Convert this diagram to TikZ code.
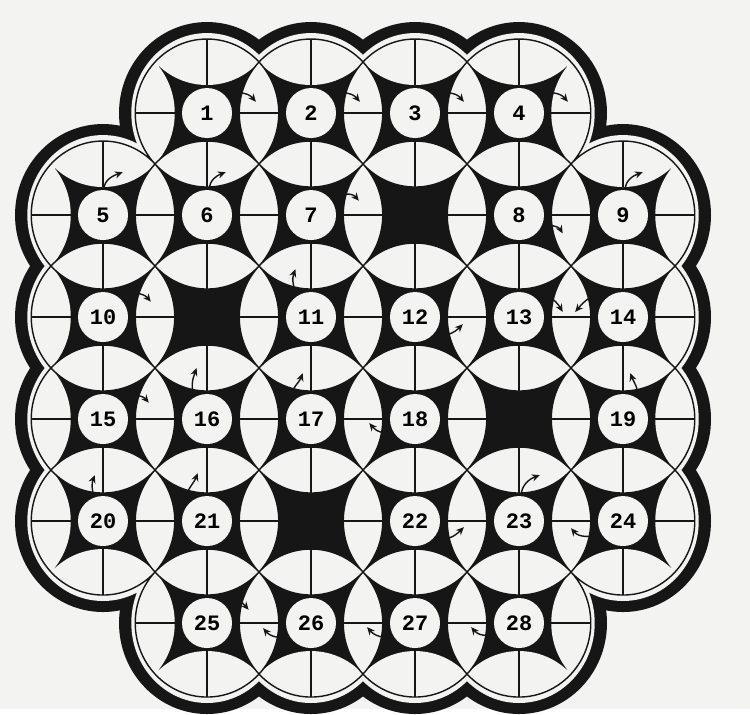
\documentclass[tikz,border=0pt]{standalone}
\usepackage{fontspec}
\setmonofont{Liberation Mono}
\usetikzlibrary{arrows.meta,calc}
\definecolor{ink}{RGB}{22,22,22}
\definecolor{paper}{RGB}{243,243,241}
\newcommand\cells{2/1,3/1,4/1,5/1,1/2,2/2,3/2,4/2,5/2,6/2,1/3,2/3,3/3,4/3,5/3,6/3,
  1/4,2/4,3/4,4/4,5/4,6/4,1/5,2/5,3/5,4/5,5/5,6/5,2/6,3/6,4/6,5/6}
\tikzset{
  disc/.style={x radius=0.69,y radius=0.7255},
  rimin/.style={x radius=0.728,y radius=0.784},
  rimout/.style={x radius=0.846,y radius=0.892},
  bar/.style={ink,line width=1.1pt},
  rim/.style={ink,line width=0.8pt},
  num/.style={circle,fill=paper,minimum size=1cm,inner sep=0pt,
    font=\ttfamily\bfseries\fontsize{12.5}{13}\selectfont},
  turn/.style={ink,line width=0.8pt,-{Stealth[length=4.5pt,width=4pt]}}
}

\begin{document}
\begin{tikzpicture}[x=2.08cm,y=2.04cm]
  \fill[paper] (0.0096,0.108) rectangle (7.221,-6.843);
  % heavy rim round the whole block
  \fill[ink] \foreach \c/\r in \cells {(\c,-\r) ellipse[rimout]};
  \fill[paper] \foreach \c/\r in \cells {(\c,-\r) ellipse[rimin]};
  % dark centres, light lenses
  \foreach \c/\r in \cells {
    \begin{scope}
      \clip (\c,-\r) ellipse[disc];
      \fill[ink] (\c,-\r) ellipse[disc];
      \fill[paper] (\c+1,-\r) ellipse[disc] (\c-1,-\r) ellipse[disc]
        (\c,-\r+1) ellipse[disc] (\c,-\r-1) ellipse[disc];
    \end{scope}
  }
  \foreach \c/\r in \cells {
    \draw[bar] (\c+0.31,-\r) -- (\c+0.69,-\r) (\c-0.31,-\r) -- (\c-0.69,-\r)
      (\c,-\r+0.2745) -- (\c,-\r+0.7255) (\c,-\r-0.2745) -- (\c,-\r-0.7255);
  }
  \draw[rim] \foreach \c/\r in \cells {(\c,-\r) ellipse[disc]};

  \foreach \n/\c/\r in {1/2/1,2/3/1,3/4/1,4/5/1,5/1/2,6/2/2,7/3/2,8/5/2,9/6/2,
      10/1/3,11/3/3,12/4/3,13/5/3,14/6/3,15/1/4,16/2/4,17/3/4,18/4/4,19/6/4,
      20/1/5,21/2/5,22/4/5,23/5/5,24/6/5,25/2/6,26/3/6,27/4/6,28/5/6}
    \node[num] (n\n) at (\c,-\r) {\n};

  \foreach \n/\a/\dx/\dy/\o/\i in {1/40/0.47/0.11/35/130,2/40/0.47/0.11/35/130,
      3/40/0.47/0.11/35/130,4/40/0.47/0.11/35/130,5/88/0.19/0.42/90/200,
      6/85/0.18/0.42/90/200,7/38/0.46/0.14/35/130,8/335/0.42/-0.18/5/120,
      9/85/0.19/0.42/90/200,10/47/0.46/0.15/40/130,11/123/-0.15/0.47/115/250,
      12/320/0.46/-0.07/-25/225,13/52/0.42/0.05/45/120,14/130/-0.46/0.05/135/50,
      15/45/0.44/0.16/40/130,16/120/-0.10/0.50/110/250,17/135/-0.08/0.45/120/250,
      18/210/-0.44/-0.04/200/-50,19/60/0.07/0.45/65/-70,20/110/-0.08/0.45/110/250,
      21/137/-0.09/0.47/120/250,22/320/0.47/-0.06/-25/225,23/85/0.20/0.45/90/200,
      24/210/-0.50/-0.07/200/-50,25/62/0.40/0.13/45/130,26/210/-0.46/-0.05/200/-50,
      27/210/-0.46/-0.04/200/-50,28/205/-0.46/-0.04/200/-50} {
    \coordinate (t\n) at ($(n\n)+(\dx,\dy)$);
    \draw[turn] (n\n.\a) to[out=\o,in=\i] (t\n);
  }
\end{tikzpicture}
\end{document}
